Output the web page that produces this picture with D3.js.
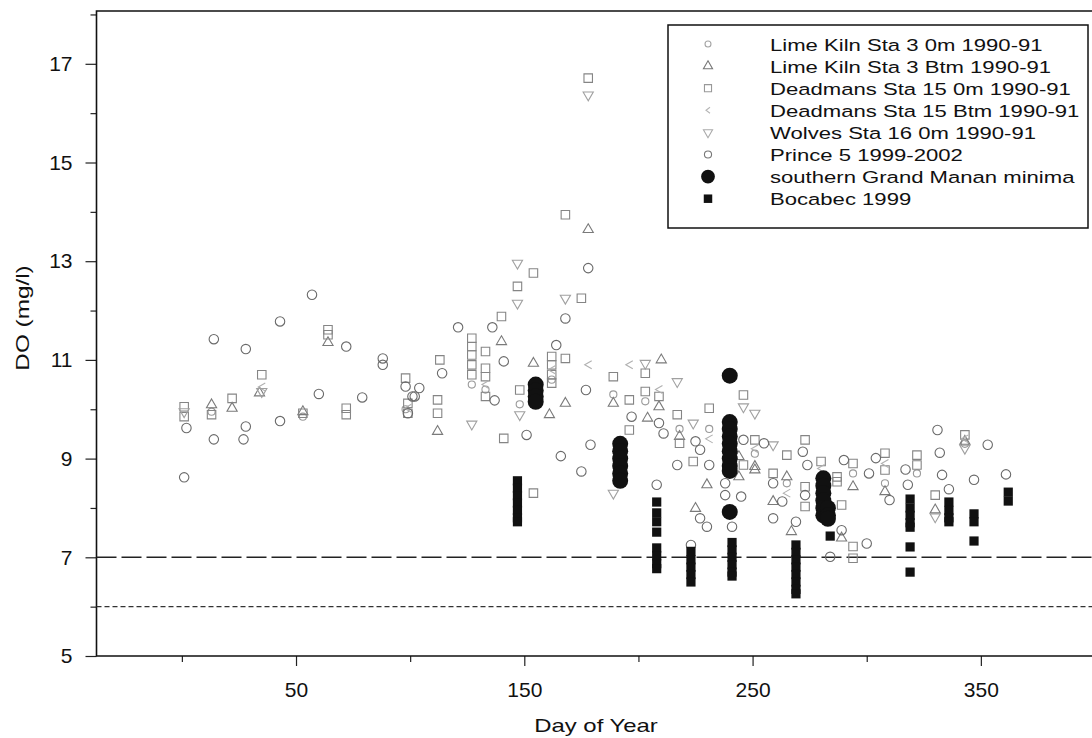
<!DOCTYPE html>
<html lang="en">
<head>
<meta charset="utf-8">
<script src="https://d3js.org/d3.v7.min.js"></script>
<style>
  body { margin: 0; background: #fff; }
  text { font-family: "Liberation Sans", Arial, sans-serif; fill: #111; }
</style>
</head>
<body>
<div id="chart"></div>
<script>

// ---- data: [day of year, DO mg/l] ----
const limeKiln0m = [
  [203, 10.16], [162, 10.6], [127, 10.5], [133, 10.4], [98, 10.0], [13, 9.95],
  [53, 9.85], [148, 10.1], [189, 10.3], [218, 9.6], [231, 9.6], [251, 9.1],
  [265, 8.5], [294, 8.7], [308, 8.5], [322, 8.7], [343, 9.3]
];
const limeKilnBtm = [
  [64, 11.35], [13, 10.09], [22, 10.02], [53, 9.95], [34, 10.33], [112, 9.55],
  [140, 11.37], [154, 10.93], [161, 9.89], [168, 10.12], [189, 10.12], [178, 13.64],
  [210, 11.0], [209, 10.05], [204, 9.82], [218, 9.45], [230, 8.47], [225, 7.99],
  [244, 9.04], [251, 8.84], [251, 8.77], [244, 8.63], [265, 8.63], [259, 8.13],
  [267, 7.52], [294, 8.43], [289, 7.39], [308, 8.33], [330, 7.96], [343, 9.35]
];
const deadmans0m = [
  [64, 11.61], [64, 11.51], [35, 10.70], [22, 10.22], [13, 9.89], [1, 10.05],
  [1, 9.85], [53, 9.92], [72, 10.02], [72, 9.89], [98, 10.63], [99, 10.12],
  [99, 9.92], [127, 11.44], [127, 11.27], [127, 11.10], [127, 10.90], [127, 10.70],
  [133, 11.17], [133, 10.83], [133, 10.66], [133, 10.26], [140, 11.88], [113, 11.0],
  [112, 10.19], [112, 9.92], [162, 11.07], [162, 10.9], [162, 10.7], [162, 10.53],
  [168, 11.03], [148, 10.39], [189, 10.66], [141, 9.41], [154, 8.30], [178, 16.71],
  [168, 13.94], [154, 12.76], [147, 12.49], [175, 12.25], [203, 10.73], [203, 10.36],
  [209, 10.26], [196, 10.19], [196, 9.58], [217, 9.89], [218, 9.31], [224, 8.94],
  [231, 10.02], [246, 10.29], [251, 9.38], [246, 8.87], [265, 9.07], [259, 8.70],
  [273, 9.38], [273, 8.43], [273, 8.03], [280, 8.94], [294, 8.90], [287, 8.63],
  [287, 8.53], [289, 8.06], [294, 7.22], [294, 6.98], [343, 9.48], [322, 9.07],
  [322, 8.87], [308, 9.11], [308, 8.77], [330, 8.26]
];
const deadmansBtm = [
  [35, 10.45], [99, 10.02], [133, 10.5], [162, 10.8], [178, 10.9], [196, 10.9],
  [209, 10.4], [231, 9.4], [251, 9.2], [265, 8.3], [280, 8.8], [308, 8.9], [343, 9.4]
];
const wolves0m = [
  [178, 16.37], [147, 12.96], [168, 12.25], [147, 12.15], [127, 9.70], [148, 9.89],
  [189, 8.30], [203, 10.93], [217, 10.56], [224, 9.72], [246, 10.05], [251, 9.92],
  [259, 9.28], [343, 9.21], [330, 7.82], [35, 10.36], [1, 9.95]
];
const prince5 = [
  [57, 12.32], [43, 11.78], [14, 11.42], [28, 11.22], [72, 11.27], [88, 11.03],
  [88, 10.90], [98, 10.46], [101, 10.26], [2, 9.62], [14, 9.39], [28, 9.65],
  [27, 9.39], [1, 8.62], [60, 10.31], [43, 9.76], [79, 10.24], [121, 11.66],
  [136, 11.66], [104, 10.43], [102, 10.26], [99, 9.92], [137, 10.18], [141, 10.97],
  [164, 11.30], [177, 10.39], [151, 9.48], [179, 9.28], [166, 9.05], [175, 8.74],
  [114, 10.73], [178, 12.86], [168, 11.84], [197, 9.85], [209, 9.72], [211, 9.51],
  [217, 8.87], [225, 9.35], [227, 9.18], [231, 8.87], [227, 7.79], [230, 7.62],
  [223, 7.25], [208, 8.47], [246, 9.38], [255, 9.31], [238, 8.50], [238, 8.26],
  [245, 8.23], [241, 7.62], [259, 8.50], [263, 8.13], [259, 7.79], [269, 7.72],
  [272, 9.14], [274, 8.87], [273, 8.26], [290, 8.97], [289, 7.55], [284, 7.01],
  [331, 9.58], [353, 9.28], [332, 9.12], [304, 9.01], [301, 8.70], [317, 8.78],
  [333, 8.67], [347, 8.57], [361, 8.68], [318, 8.47], [310, 8.16], [336, 8.38],
  [300, 7.28]
];
const grandMananMinima = [
  [155, 10.5], [155, 10.38], [155, 10.26], [155, 10.15],
  [192, 9.3], [192, 9.15], [192, 9.0], [192, 8.85], [192, 8.7], [192, 8.55],
  [240, 10.68], [240, 9.74], [240, 9.6], [240, 9.45], [240, 9.3], [240, 9.15],
  [240, 9.0], [240, 8.85], [240, 8.75], [240, 7.92],
  [281, 8.6], [281, 8.45], [281, 8.3], [281, 8.15], [281, 8.0], [281, 7.85],
  [283, 8.0], [283, 7.85], [283, 7.78]
];
const bocabec1999 = [
  [147, 8.55], [147, 8.4], [147, 8.25], [147, 8.1], [147, 7.95], [147, 7.8], [147, 7.72],
  [208, 8.12], [208, 7.9], [208, 7.72], [208, 7.51], [208, 7.19], [208, 7.03], [208, 6.87], [208, 6.77],
  [223, 7.12], [223, 6.95], [223, 6.8], [223, 6.65], [223, 6.5],
  [241, 7.3], [241, 7.15], [241, 7.0], [241, 6.85], [241, 6.7], [241, 6.62],
  [269, 7.25], [269, 7.1], [269, 6.95], [269, 6.8], [269, 6.65], [269, 6.5], [269, 6.35], [269, 6.26],
  [284, 7.43],
  [319, 8.18], [319, 8.0], [319, 7.85], [319, 7.7], [319, 7.61], [319, 7.21], [319, 6.70],
  [336, 8.12], [336, 7.95], [336, 7.8], [336, 7.72],
  [347, 7.88], [347, 7.72], [347, 7.33],
  [362, 8.32], [362, 8.14]
];

const legendLabels = [
  "Lime Kiln Sta 3 0m 1990-91", "Lime Kiln Sta 3 Btm 1990-91",
  "Deadmans Sta 15 0m 1990-91", "Deadmans Sta 15 Btm 1990-91",
  "Wolves Sta 16 0m 1990-91", "Prince 5 1999-2002",
  "southern Grand Manan minima", "Bocabec 1999"
];
const xMajorTicks = [50, 150, 250, 350];
const xMinorTicks = [0, 100, 200, 300];
const yMajorTicks = [5, 7, 9, 11, 13, 15, 17];
const yMinorTicks = [6, 8, 10, 12, 14, 16, 18];
const limitDO = 7, lowDO = 6;

// ---- layout ----
const W = 1092, H = 738;
const plotLeft = 96.5, plotBottom = 656, plotTop = 11;

const svg = d3.select("#chart").append("svg")
    .attr("width", W).attr("height", H);

const x = d3.scaleLinear().domain([-37.4, 400]).range([plotLeft, 1095]);
const y = d3.scaleLinear().domain([5, 18.07]).range([plotBottom, plotTop]);

// axes (ticks only, frame drawn separately)
function styleAxis(g) {
  g.select(".domain").remove();
  g.selectAll(".tick line").attr("stroke", "#222").attr("stroke-width", 1.2);
  g.selectAll(".tick text").style("font-size", "21px").attr("fill", "#111");
}
svg.append("g").attr("transform", `translate(0,${plotBottom})`)
  .call(d3.axisBottom(x).tickValues(xMajorTicks).tickSize(10).tickPadding(16))
  .call(styleAxis);
svg.append("g").attr("transform", `translate(0,${plotBottom})`)
  .call(d3.axisBottom(x).tickValues(xMinorTicks).tickSize(6).tickFormat(""))
  .call(styleAxis);
svg.append("g").attr("transform", `translate(${plotLeft},0)`)
  .call(d3.axisLeft(y).tickValues(yMajorTicks).tickSize(11).tickPadding(13))
  .call(styleAxis);
svg.append("g").attr("transform", `translate(${plotLeft},0)`)
  .call(d3.axisLeft(y).tickValues(yMinorTicks.filter(v => y(v) >= plotTop)).tickSize(6).tickFormat(""))
  .call(styleAxis);

// frame: left, bottom, top
svg.append("path")
  .attr("d", `M${W},${plotTop}H${plotLeft}V${plotBottom}H${W}`)
  .attr("fill", "none").attr("stroke", "#111").attr("stroke-width", 1.6);

// reference lines
svg.append("line")
  .attr("x1", plotLeft).attr("x2", W).attr("y1", y(limitDO)).attr("y2", y(limitDO))
  .attr("stroke", "#222").attr("stroke-width", 1.5).attr("stroke-dasharray", "20,5");
svg.append("line")
  .attr("x1", plotLeft).attr("x2", W).attr("y1", y(lowDO)).attr("y2", y(lowDO))
  .attr("stroke", "#333").attr("stroke-width", 1.4).attr("stroke-dasharray", "5,3");

// symbol generators
const ltPath = "M3.5,-4L-3.5,0L3.5,4";
const symbols = [
  { data: limeKiln0m,  d: d3.symbol(d3.symbolCircle, 40)(),   rot: 0,   stroke: "#9a9a9a", fill: "none" },
  { data: limeKilnBtm, d: d3.symbol(d3.symbolTriangle, 45)(), rot: 0,   stroke: "#7a7a7a", fill: "none" },
  { data: deadmans0m,  d: d3.symbol(d3.symbolSquare, 72)(),   rot: 0,   stroke: "#858585", fill: "none" },
  { data: deadmansBtm, d: ltPath,                              rot: 0,   stroke: "#b0b0b0", fill: "none" },
  { data: wolves0m,    d: d3.symbol(d3.symbolTriangle, 45)(), rot: 180, stroke: "#a0a0a0", fill: "none" },
  { data: prince5,     d: d3.symbol(d3.symbolCircle, 70)(),   rot: 0,   stroke: "#6a6a6a", fill: "none" }
];

const pts = svg.append("g");
symbols.forEach(s => {
  pts.append("g").selectAll("path")
    .data(s.data)
    .join("path")
      .attr("transform", d => `translate(${x(d[0])},${y(d[1])}) rotate(${s.rot})`)
      .attr("d", s.d)
      .attr("fill", s.fill)
      .attr("stroke", s.stroke)
      .attr("stroke-width", 1.1);
});

// Grand Manan minima: big black dots
pts.append("g").selectAll("circle")
  .data(grandMananMinima)
  .join("circle")
    .attr("cx", d => x(d[0])).attr("cy", d => y(d[1]))
    .attr("r", 8).attr("fill", "#111");

// Bocabec: black squares
pts.append("g").selectAll("rect")
  .data(bocabec1999)
  .join("rect")
    .attr("x", d => x(d[0]) - 4.6).attr("y", d => y(d[1]) - 4.6)
    .attr("width", 9.2).attr("height", 9.2).attr("fill", "#111");

// axis titles (scan is stretched horizontally)
svg.append("text")
  .attr("transform", "translate(596,732) scale(1.33,1)")
  .attr("text-anchor", "middle").style("font-size", "18px")
  .text("Day of Year");
svg.append("text")
  .attr("transform", "translate(29,318) rotate(-90) scale(1.35,1)")
  .attr("text-anchor", "middle").style("font-size", "18px")
  .text("DO (mg/l)");

// legend
const lg = svg.append("g");
lg.append("rect")
  .attr("x", 668).attr("y", 25).attr("width", 420).attr("height", 203)
  .attr("fill", "#fff").attr("stroke", "#111").attr("stroke-width", 1.5);

const legendMarks = [
  { d: d3.symbol(d3.symbolCircle, 28)(),   rot: 0,   stroke: "#a5a5a5", fill: "none" },
  { d: d3.symbol(d3.symbolTriangle, 36)(), rot: 0,   stroke: "#777",    fill: "none" },
  { d: d3.symbol(d3.symbolSquare, 50)(),   rot: 0,   stroke: "#999",    fill: "none" },
  { d: "M2,-3L-2,0L2,3",                   rot: 0,   stroke: "#b5b5b5", fill: "none" },
  { d: d3.symbol(d3.symbolTriangle, 36)(), rot: 180, stroke: "#aaa",    fill: "none" },
  { d: d3.symbol(d3.symbolCircle, 40)(),   rot: 0,   stroke: "#777",    fill: "none" },
  { d: d3.symbol(d3.symbolCircle, 150)(),  rot: 0,   stroke: "none",    fill: "#111" },
  { d: d3.symbol(d3.symbolSquare, 72)(),   rot: 0,   stroke: "none",    fill: "#111" }
];
const rowY = i => 44 + i * 22.1;

lg.selectAll("path")
  .data(legendMarks)
  .join("path")
    .attr("transform", (d, i) => `translate(708,${rowY(i)}) rotate(${d.rot})`)
    .attr("d", d => d.d)
    .attr("fill", d => d.fill)
    .attr("stroke", d => d.stroke)
    .attr("stroke-width", 1.1);

lg.selectAll("text")
  .data(legendLabels)
  .join("text")
    .attr("transform", (d, i) => `translate(770,${rowY(i) + 6.5}) scale(1.3,1)`)
    .style("font-size", "17px")
    .text(d => d);

</script>
</body>
</html>
